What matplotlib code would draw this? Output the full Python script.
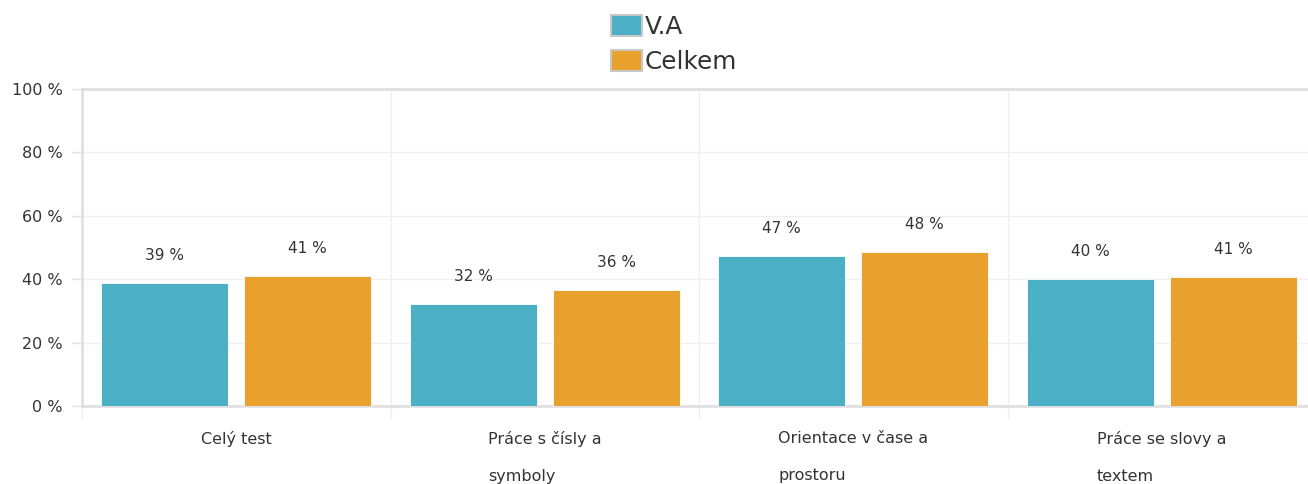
import matplotlib.pyplot as plt
import numpy as np
from matplotlib.patches import Patch

plt.rcParams["font.family"] = ["DejaVu Sans"]

categories = ["Celý test", "Práce s čísly a\nsymboly", "Orientace v čase a\nprostoru", "Práce se slovy a\ntextem"]
series_names = ["V.A", "Celkem"]
va_values = [38.8, 32.2, 47.3, 40.1]
celkem_values = [41.0, 36.6, 48.6, 40.7]
va_labels = ["39 %", "32 %", "47 %", "40 %"]
celkem_labels = ["41 %", "36 %", "48 %", "41 %"]
y_ticks = [0, 20, 40, 60, 80, 100]

colors = ["#4BB0C5", "#E8A12C"]
grid_color = "#EFEFEF"
axis_color = "#E0E0E0"
text_color = "#333333"

W, H = 1308, 484
fig = plt.figure(figsize=(W / 100, H / 100), dpi=100)
# axes runs past the right edge of the figure, as in the reference
ax = fig.add_axes([82 / W, (H - 406) / H, 1234 / W, 317 / H])

x = np.arange(len(categories))
width = 0.412
offset = 0.232

for i, (vals, labels) in enumerate([(va_values, va_labels), (celkem_values, celkem_labels)]):
    pos = x + (i * 2 - 1) * offset
    ax.bar(pos, vals, width, color=colors[i], edgecolor="white", linewidth=0.6, zorder=3)
    for xp, v, lab in zip(pos, vals, labels):
        ax.annotate(lab, (xp, v), xytext=(0, 20), textcoords="offset points",
                    ha="center", va="center", fontsize=11, color=text_color)

ax.set_xlim(-0.5, len(categories) - 0.5)
ax.set_ylim(0, 100)

ax.set_yticks(y_ticks)
ax.set_yticklabels([f"{t} %" for t in y_ticks], fontsize=11.5, color=text_color)
ax.tick_params(axis="y", length=7, width=1, color=axis_color, pad=7)
ax.yaxis.grid(True, color=grid_color, linewidth=1, zorder=0)

ax.set_xticks(x)
ax.set_xticklabels(categories, fontsize=11.5, color=text_color, linespacing=2.8, multialignment="left")
ax.tick_params(axis="x", which="major", length=0, pad=18)
ax.set_xticks(np.arange(len(categories) + 1) - 0.5, minor=True)
ax.tick_params(axis="x", which="minor", length=9, width=1, color=grid_color)
ax.xaxis.grid(True, which="minor", color=grid_color, linewidth=1, zorder=0)

ax.spines["right"].set_visible(False)
for side in ["top", "left", "bottom"]:
    ax.spines[side].set_color(axis_color)
    ax.spines[side].set_linewidth(2)

handles = [Patch(facecolor=c, edgecolor="#C8C8C8", linewidth=1.5) for c in colors]
fig.legend(handles, series_names, loc="upper center", bbox_to_anchor=(674 / W, 1.0),
           frameon=False, fontsize=17.8, handlelength=1.25, handleheight=0.9,
           handletextpad=0.12, labelspacing=0.45, borderaxespad=0.2,
           labelcolor=text_color)

fig.savefig("out.png", dpi=100)
